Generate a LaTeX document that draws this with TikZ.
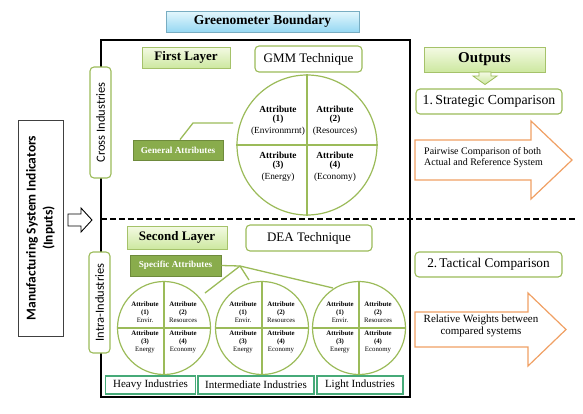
\documentclass[tikz,border=0pt]{standalone}
\usepackage{fontspec}
\setmainfont{Liberation Serif}
\newfontfamily\calfont{Carlito}
\definecolor{olive}{RGB}{155,187,89}
\definecolor{darkolive}{RGB}{137,172,76}
\definecolor{darkoliveline}{RGB}{110,138,60}
\definecolor{orangeA}{RGB}{240,160,100}
\definecolor{tealA}{RGB}{70,170,120}
\definecolor{lgtop}{RGB}{244,250,228}
\definecolor{lgbot}{RGB}{205,232,160}
\definecolor{lbtop}{RGB}{228,247,253}
\definecolor{lbbot}{RGB}{150,216,242}
\tikzset{
  roundbox/.style={draw=olive, line width=1.1, rounded corners=4, fill=white, inner sep=0},
  lgbox/.style={draw=olive!90, line width=0.8, top color=lgtop, bottom color=lgbot, inner sep=0},
  darkbox/.style={draw=darkoliveline, line width=0.8, fill=darkolive, text=white, inner sep=0,
    font=\bfseries\fontsize{9.2}{10}\selectfont},
  vbox/.style={draw=olive, line width=1.1, rounded corners=4, fill=white, inner sep=0, rotate=90,
    font=\calfont\fontsize{12.5}{13}\selectfont},
  indbox/.style={draw=tealA, line width=1.3, fill=white, inner sep=0, font=\fontsize{11}{12}\selectfont},
  attcircle/.style={circle, draw=olive, line width=1.2, inner sep=0},
  conn/.style={draw=olive, line width=1.3},
  orarrow/.style={draw=orangeA, line width=1.2, fill=white},
  bigq/.style={align=center, inner sep=0, font=\fontsize{9.3}{8.7}\selectfont},
  smallq/.style={align=center, inner sep=0, font=\fontsize{6.8}{7.8}\selectfont},
}
\begin{document}
\begin{tikzpicture}[x=1pt,y=-1pt]
\useasboundingbox (0,0) rectangle (583,413);

% title
\node[draw=lbbot!80!black, line width=0.6, top color=lbtop, bottom color=lbbot, inner sep=0,
  minimum width=193, minimum height=21, font=\rmfamily\bfseries\fontsize{13.5}{14}\selectfont]
  (title) at (262.5,21.5) {Greenometer Boundary};

% main boundary box
\node[draw=black, line width=1.4, minimum width=309, minimum height=357, inner sep=0]
  (main) at (255.5,218.5) {};

% dashed separator
\coordinate (dashL) at (101,219);
\coordinate (dashR) at (575,219);
\draw[line width=1.5, dash pattern=on 5.5 off 3.5] (dashL) -- (dashR);

% inputs
\node[draw=black!75, line width=0.8, fill=white, minimum width=216, minimum height=45, inner sep=0,
  rotate=90, align=center, font=\calfont\bfseries\fontsize{13.5}{17}\selectfont]
  (inputs) at (40.5,228) {Manufacturing System Indicators\\(Inputs)};
\draw[line width=0.9, fill=white] (68,214) -- (81,214) -- (81,208) -- (92,220) -- (81,232) -- (81,226) -- (68,226) -- cycle;

% vertical labels
\node[vbox, minimum width=111, minimum height=21] (cross) at (100.5,122.5) {Cross Industries};
\node[vbox, minimum width=101, minimum height=21] (intra) at (99.5,302.5) {Intra-Industries};

% first layer
\node[lgbox, minimum width=88, minimum height=21, font=\bfseries\fontsize{13}{14}\selectfont]
  (first) at (186,57.5) {First Layer};
\node[roundbox, minimum width=107, minimum height=26, font=\fontsize{13}{14}\selectfont]
  (gmm) at (308.5,59) {GMM Technique};
\node[darkbox, minimum width=90, minimum height=20] (gen) at (178,150) {General Attributes};

\node[attcircle, minimum size=140] (bigc) at (307,145) {};
\draw[conn] (bigc.west) -- (bigc.east);
\draw[conn] (bigc.north) -- (bigc.south);
\node[bigq] (b1) at (278,121) {\textbf{Attribute}\\\textbf{(1)}\\[3.5pt](Environmrnt)};
\node[bigq] (b2) at (335,121) {\textbf{Attribute}\\\textbf{(2)}\\[3.5pt](Resources)};
\node[bigq] (b3) at (278,167) {\textbf{Attribute}\\\textbf{(3)}\\[3.5pt](Energy)};
\node[bigq] (b4) at (335,167) {\textbf{Attribute}\\\textbf{(4)}\\[3.5pt](Economy)};

\coordinate (genbend) at (193,123);
\coordinate (genend) at (233,123);
\draw[conn] ([xshift=2]gen.north) -- (genbend) -- (genend);

% second layer
\node[lgbox, minimum width=100, minimum height=23, font=\bfseries\fontsize{13}{14}\selectfont]
  (second) at (177,237.5) {Second Layer};
\node[roundbox, minimum width=126, minimum height=26, font=\fontsize{13}{14}\selectfont]
  (dea) at (309,238) {DEA Technique};
\node[darkbox, minimum width=91, minimum height=21] (spec) at (175.5,265.5) {Specific Attributes};

\foreach \n/\cx in {c1/164, c2/262, c3/359}{
  \node[attcircle, minimum size=93] (\n) at (\cx,328) {};
  \draw[conn, line width=1.1] (\n.west) -- (\n.east);
  \draw[conn, line width=1.1] (\n.north) -- (\n.south);
  \node[smallq] (\n q1) at ([xshift=-19,yshift=15.5]\n.center) {\textbf{Attribute}\\\textbf{(1)}\\[0.5pt]Envir.};
  \node[smallq] (\n q2) at ([xshift=19,yshift=15.5]\n.center) {\textbf{Attribute}\\\textbf{(2)}\\[0.5pt]Resources};
  \node[smallq] (\n q3) at ([xshift=-19,yshift=-14]\n.center) {\textbf{Attribute}\\\textbf{(3)}\\[0.5pt]Energy};
  \node[smallq] (\n q4) at ([xshift=19,yshift=-14]\n.center) {\textbf{Attribute}\\\textbf{(4)}\\[0.5pt]Economy};
}

\coordinate (apex) at (240,266);
\coordinate (e1) at (205,293);
\coordinate (e2) at (249,280);
\coordinate (e3) at (333,288);
\draw[conn] (spec.east) -- (apex);
\draw[conn] (apex) -- (e1);
\draw[conn] (apex) -- (e2);
\draw[conn] (apex) -- (e3);

% industry boxes
\node[indbox, minimum width=90, minimum height=18] (heavy) at (150.5,385) {Heavy Industries};
\node[indbox, minimum width=116, minimum height=18] (inter) at (256,385) {Intermediate Industries};
\node[indbox, minimum width=86, minimum height=18] (light) at (360,385) {Light Industries};

% outputs
\node[lgbox, minimum width=121, minimum height=25, font=\bfseries\fontsize{15}{16}\selectfont]
  (outputs) at (484.5,59.5) {Outputs};
\draw[draw=olive, line width=0.8, top color=lgtop, bottom color=lgbot]
  (479,72) -- (491,72) -- (491,76) -- (497,76) -- (485,84.5) -- (473,76) -- (479,76) -- cycle;
\node[roundbox, minimum width=146, minimum height=25, font=\fontsize{13.8}{14}\selectfont]
  (strat) at (489,101.5) {1.\,Strategic Comparison};
\draw[orarrow] (415,140) -- (531,140) -- (531,121) -- (572,160) -- (531,199) -- (531,180) -- (415,180) -- cycle;
\node[anchor=west, align=left, inner sep=0, font=\fontsize{10}{11.5}\selectfont]
  (pair) at (424,157.5) {Pairwise Comparison of both\\Actual and Reference System};

\node[roundbox, minimum width=147, minimum height=25, font=\fontsize{13.3}{14}\selectfont]
  (tact) at (488.5,264.5) {2.\,Tactical Comparison};
\draw[orarrow] (415,312) -- (528,312) -- (528,293) -- (566,329.5) -- (528,366) -- (528,347) -- (415,347) -- cycle;
\node[align=center, inner sep=0, font=\fontsize{11}{12}\selectfont]
  (relw) at (481,326) {Relative Weights between\\compared systems};
\end{tikzpicture}
\end{document}
